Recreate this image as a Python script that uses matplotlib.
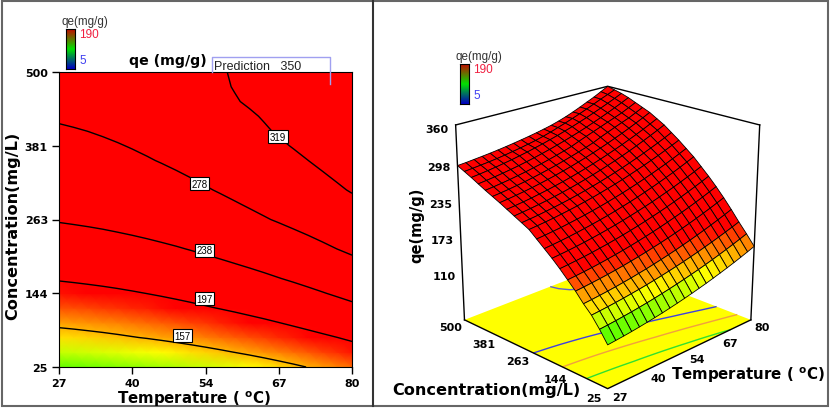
import numpy as np
import matplotlib
matplotlib.use('Agg')
import matplotlib.pyplot as plt
from matplotlib.colors import LinearSegmentedColormap, Normalize
from matplotlib.lines import Line2D
from matplotlib.patches import Rectangle

temperature = [27.0, 29.65, 32.3, 34.95, 37.6, 40.25, 42.9, 45.55, 48.2, 50.85, 53.5,
               56.15, 58.8, 61.45, 64.1, 66.75, 69.4, 72.05, 74.7, 77.35, 80.0]
concentration = [25.0, 48.75, 72.5, 96.25, 120.0, 143.75, 167.5, 191.25, 215.0, 238.75, 262.5,
                 286.25, 310.0, 333.75, 357.5, 381.25, 405.0, 428.75, 452.5, 476.25, 500.0]
# qe, one row per concentration
qe = [
    [115.0, 116.2, 117.5, 119.0, 120.7, 122.6, 124.6, 126.7, 129.1, 131.6, 134.3, 137.1, 140.1, 143.2, 146.6, 150.1, 153.7, 157.5, 161.5, 165.7, 170.0],
    [133.0, 134.1, 135.4, 136.9, 138.5, 140.3, 142.2, 144.3, 146.6, 149.0, 151.6, 154.3, 157.2, 160.2, 163.4, 166.8, 170.3, 174.0, 177.8, 181.8, 186.0],
    [149.0, 150.1, 151.4, 152.8, 154.4, 156.2, 158.0, 160.1, 162.3, 164.7, 167.2, 169.9, 172.7, 175.7, 178.8, 182.2, 185.6, 189.2, 193.0, 196.9, 201.0],
    [161.0, 162.2, 163.6, 165.1, 166.8, 168.7, 170.7, 173.0, 175.3, 177.9, 180.6, 183.5, 186.5, 189.8, 193.1, 196.7, 200.4, 204.3, 208.4, 212.6, 217.0],
    [175.0, 176.2, 177.6, 179.2, 180.9, 182.8, 184.9, 187.2, 189.6, 192.2, 195.0, 197.9, 201.0, 204.3, 207.7, 211.3, 215.1, 219.1, 223.2, 227.5, 232.0],
    [187.0, 188.3, 189.7, 191.3, 193.1, 195.1, 197.3, 199.6, 202.1, 204.8, 207.7, 210.7, 213.9, 217.3, 220.9, 224.6, 228.5, 232.6, 236.9, 241.4, 246.0],
    [199.0, 200.3, 201.8, 203.4, 205.2, 207.3, 209.4, 211.8, 214.4, 217.1, 220.0, 223.1, 226.4, 229.8, 233.4, 237.3, 241.2, 245.4, 249.8, 254.3, 259.0],
    [210.0, 211.3, 212.8, 214.5, 216.3, 218.4, 220.6, 223.0, 225.6, 228.4, 231.4, 234.5, 237.8, 241.3, 245.0, 248.9, 252.9, 257.2, 261.6, 266.2, 271.0],
    [220.0, 221.4, 222.9, 224.6, 226.6, 228.7, 231.0, 233.5, 236.1, 239.0, 242.1, 245.3, 248.7, 252.4, 256.2, 260.2, 264.4, 268.7, 273.3, 278.1, 283.0],
    [230.0, 231.4, 232.9, 234.6, 236.6, 238.7, 241.0, 243.5, 246.1, 249.0, 252.1, 255.3, 258.7, 262.4, 266.2, 270.2, 274.4, 278.7, 283.3, 288.1, 293.0],
    [240.0, 241.4, 242.9, 244.6, 246.6, 248.7, 251.0, 253.5, 256.1, 259.0, 262.1, 265.3, 268.7, 272.4, 276.2, 280.2, 284.4, 288.7, 293.3, 298.1, 303.0],
    [246.0, 247.4, 249.0, 250.9, 252.9, 255.1, 257.5, 260.1, 262.9, 265.9, 269.1, 272.5, 276.1, 279.9, 283.9, 288.1, 292.5, 297.1, 301.8, 306.8, 312.0],
    [252.0, 253.5, 255.2, 257.1, 259.2, 261.5, 264.0, 266.7, 269.7, 272.8, 276.2, 279.7, 283.5, 287.4, 291.6, 296.0, 300.6, 305.4, 310.4, 315.6, 321.0],
    [258.0, 259.5, 261.2, 263.1, 265.3, 267.6, 270.2, 272.9, 275.9, 279.1, 282.5, 286.1, 289.9, 293.9, 298.2, 302.6, 307.3, 312.1, 317.2, 322.5, 328.0],
    [264.0, 265.5, 267.3, 269.2, 271.4, 273.8, 276.4, 279.2, 282.2, 285.4, 288.9, 292.5, 296.4, 300.5, 304.8, 309.3, 314.0, 318.9, 324.1, 329.4, 335.0],
    [269.5, 271.0, 272.7, 274.7, 276.8, 279.2, 281.8, 284.6, 287.5, 290.8, 294.2, 297.8, 301.6, 305.7, 311.0, 315.6, 320.3, 324.8, 329.1, 334.5, 340.0],
    [275.0, 276.5, 278.2, 280.1, 282.3, 284.6, 287.2, 289.9, 292.9, 296.1, 299.5, 303.1, 307.9, 312.4, 316.7, 321.1, 325.5, 329.8, 334.2, 339.5, 345.0],
    [281.0, 282.5, 284.2, 286.1, 288.2, 290.5, 293.0, 295.7, 298.7, 301.8, 305.2, 308.7, 312.5, 316.4, 320.6, 325.0, 329.6, 334.4, 339.4, 344.6, 350.0],
    [287.0, 288.4, 290.1, 291.9, 294.0, 296.2, 298.7, 301.3, 304.2, 307.2, 310.5, 313.9, 317.6, 321.4, 325.5, 329.7, 334.2, 338.8, 343.7, 348.7, 354.0],
    [292.5, 293.7, 295.0, 296.4, 298.0, 299.9, 302.0, 304.2, 306.7, 309.3, 312.5, 316.0, 320.0, 324.0, 328.3, 332.8, 337.5, 342.5, 347.5, 352.2, 357.0],
    [298.0, 299.0, 300.3, 301.6, 303.0, 304.6, 306.4, 308.3, 310.4, 312.6, 315.0, 317.6, 320.5, 324.0, 328.0, 332.5, 337.5, 342.8, 348.0, 354.0, 360.0],
]
temp_ticks = [27, 40, 54, 67, 80]
conc_ticks = [25, 144, 263, 381, 500]
qe_ticks = [110, 173, 235, 298, 360]
contour_levels = [157, 197, 238, 278, 319]
label_t = [49.4, 53.3, 53.3, 52.5, 66.6]
label_c = [75, 135, 213, 320, 396]
floor_levels = [157, 197, 238, 319]
floor_colors = ['#30e030', '#f0a040', '#4040e0', '#6060d0']

W, H = 830, 410
plt.rcParams['font.family'] = ['Liberation Sans', 'DejaVu Sans']
fig = plt.figure(figsize=(W / 100, H / 100), dpi=100)


def px(x, y):
    return x / W, 1 - y / H


def fig_text(x, y, s, **kw):
    xf, yf = px(x, y)
    kw.setdefault('ha', 'center')
    kw.setdefault('va', 'center')
    fig.text(xf, yf, s, **kw)


T, C = np.meshgrid(temperature, concentration)
Z = np.array(qe)
cmap = LinearSegmentedColormap.from_list('de', ['#0000ff', '#00ffff', '#00ff00', '#ffff00', '#ff0000'])
norm = Normalize(5, 190, clip=True)
legend_cmap = LinearSegmentedColormap.from_list('leg', ['#0000c0', '#00e000', '#c01000'])

# contour panel
ax = fig.add_axes([59 / W, 1 - 368 / H, 293 / W, 295 / H])
ax.pcolormesh(T, C, Z, cmap=cmap, norm=norm, shading='gouraud', rasterized=True)
ax.contour(T, C, Z, levels=contour_levels, colors='black', linewidths=1)
for lev, lt, lc in zip(contour_levels, label_t, label_c):
    ax.text(lt, lc, str(lev), fontsize=7, ha='center', va='center',
            bbox=dict(boxstyle='square,pad=0.15', fc='white', ec='black', lw=0.8))
ax.set_xlim(27, 80)
ax.set_ylim(25, 500)
ax.set_xticks([27, 40.25, 53.5, 66.75, 80])
ax.set_xticklabels(temp_ticks, fontsize=8, fontweight='bold', family='DejaVu Sans')
ax.set_yticks([25, 143.75, 262.5, 381.25, 500])
ax.set_yticklabels(conc_ticks, fontsize=8, fontweight='bold', family='DejaVu Sans')
ax.tick_params(length=5, width=1, pad=3)

bold = dict(fontweight='bold', family='DejaVu Sans', color='black')
fig_text(168, 61, 'qe (mg/g)', fontsize=10.2, **bold)
fig_text(194, 399, r'Temperature ( $^{\mathbf{o}}$C)', fontsize=10.8, **bold)
fig_text(13, 226, 'Concentration(mg/L)', fontsize=11.6, rotation=90, **bold)

# prediction flag
flag_x = [212, 212, 330, 330]
flag_y = [73, 58, 58, 85]
fig.add_artist(Line2D([x / W for x in flag_x], [1 - y / H for y in flag_y], color='#a0a0f0', lw=1))
fig_text(214, 66.5, 'Prediction   350', fontsize=9, ha='left', color='#222222')


def color_key(x0, y0, tx, ty):
    cax = fig.add_axes([x0 / W, 1 - (y0 + 40) / H, 9 / W, 40 / H], zorder=10)
    cax.imshow(np.linspace(1, 0, 40)[:, None], cmap=legend_cmap, aspect='auto')
    cax.set_xticks([])
    cax.set_yticks([])
    fig_text(tx, ty, 'qe(mg/g)', fontsize=8.4, color='#333333')
    fig_text(x0 + 13, y0 + 5, '190', fontsize=8.5, ha='left', color='#f02040')
    fig_text(x0 + 13, y0 + 31, '5', fontsize=8.5, ha='left', color='#4040f0')


color_key(66, 30, 85, 22)
color_key(460, 65, 479, 57)

# surface panel
ax3 = fig.add_axes([392 / W, 1 - 442 / H, 420 / W, 420 / H], projection='3d', computed_zorder=False)
ax3.set_proj_type('persp', focal_length=0.55)
ax3.view_init(elev=21, azim=-135)
ax3.set_xlim(27, 80)
ax3.set_ylim(25, 500)
ax3.set_zlim(48, 360)
ax3.set_box_aspect((1, 1, 1.0), zoom=0.835)
ax3.set_axis_off()

tx = [27, 80]
cy = [25, 500]
FX, FY = np.meshgrid(tx, cy)
ax3.plot_surface(FX, FY, np.full(FX.shape, 48.0), color='#ffff00', shade=False, zorder=1)
ax3.contour(T, C, Z, levels=floor_levels, colors=floor_colors, linewidths=1, zdir='z', offset=48, zorder=2)
ax3.plot_surface(T, C, Z, facecolors=cmap(norm(Z)), edgecolor='black', linewidth=0.6,
                 rstride=1, cstride=1, shade=False, zorder=5)

lk = dict(color='black', lw=1, zorder=3)
ax3.plot([27, 27], [500, 500], [48, 360], **lk)
ax3.plot([80, 80], [25, 25], [48, 360], **lk)
ax3.plot([27, 80, 80], [500, 500, 25], [360, 360, 360], **lk)
lk['zorder'] = 6
ax3.plot([27, 27, 80], [500, 25, 25], [48, 48, 48], **lk)

lab = dict(fontsize=8, fontweight='bold', family='DejaVu Sans', ha='center', va='center', zorder=10)
for v in qe_ticks:
    ax3.text(27, 500 + 70, 48 + (v - 48) * 0.95, str(v), **lab)
for v in temp_ticks:
    ax3.text(v, 25 - 35, 48 - 4, str(v), **lab)
for v in conc_ticks:
    ax3.text(27 - 4.5, v, 48 - 4, str(v), **lab)

fig_text(748, 375, r'Temperature ( $^{\mathbf{o}}$C)', fontsize=10.8, **bold)
fig_text(486, 391, 'Concentration(mg/L)', fontsize=11.6, **bold)
fig_text(417, 225, 'qe(mg/g)', fontsize=10.5, rotation=90, **bold)

# outer frames
fig.add_artist(Rectangle((2 / W, 1 - 407 / H), 826 / W, 405 / H, fill=False, ec='#666666', lw=1.5,
                         transform=fig.transFigure))
fig.add_artist(Line2D([372.5 / W] * 2, [1 - 407 / H, 1 - 2 / H], color='#333333', lw=1.5))

fig.savefig('out.png', dpi=100)
